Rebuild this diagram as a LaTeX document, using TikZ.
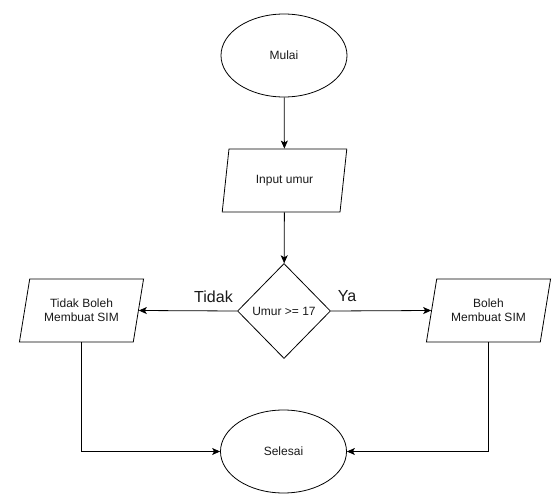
\documentclass[tikz,border=0pt]{standalone}
\usepackage{fontspec}
\setmainfont{Liberation Sans}
\usetikzlibrary{shapes.geometric,arrows.meta}
\begin{document}
\begin{tikzpicture}[x=1pt,y=-1pt,
  every node/.style={font=\fontsize{12}{14}\selectfont, text=black!90, align=center},
  term/.style={ellipse, draw, line width=0.8pt, minimum width=126pt, minimum height=83pt, inner sep=0pt},
  io/.style={trapezium, trapezium left angle=72, trapezium right angle=108, trapezium stretches=true,
             draw, line width=0.8pt, minimum width=125pt, minimum height=63pt, inner sep=0pt},
  decision/.style={diamond, draw, line width=0.8pt, minimum width=93pt, minimum height=95pt, inner sep=0pt},
  lbl/.style={font=\fontsize{16}{19}\selectfont},
  arr/.style={draw, line width=0.8pt, -{Stealth[length=8pt,width=7pt,inset=2pt]}}
]
\useasboundingbox (0,0) rectangle (560,500);
\node[term] (mulai) at (284,55.5) {Mulai};
\node[io] (input) at (284.5,180.5) {Input umur};
\node[decision] (cek) at (284,311) {Umur >= 17};
\node[io] (tidak) at (81.5,310.5) {Tidak Boleh\\Membuat SIM};
\node[io] (boleh) at (488.5,310.5) {Boleh\\Membuat SIM};
\node[term] (selesai) at (283.5,451.5) {Selesai};
\node[lbl] (ltidak) at (213.5,297) {Tidak};
\node[lbl] (lya) at (347,296) {Ya};
\draw[arr] (mulai) -- (input);
\draw[arr] (input) -- (cek);
\draw[arr] (cek.west) -- (tidak.right side);
\draw[arr] (cek.east) -- (boleh.left side);
\draw[arr] (tidak.south) |- (selesai.west);
\draw[arr] (boleh.south) |- (selesai.east);
\end{tikzpicture}
\end{document}
